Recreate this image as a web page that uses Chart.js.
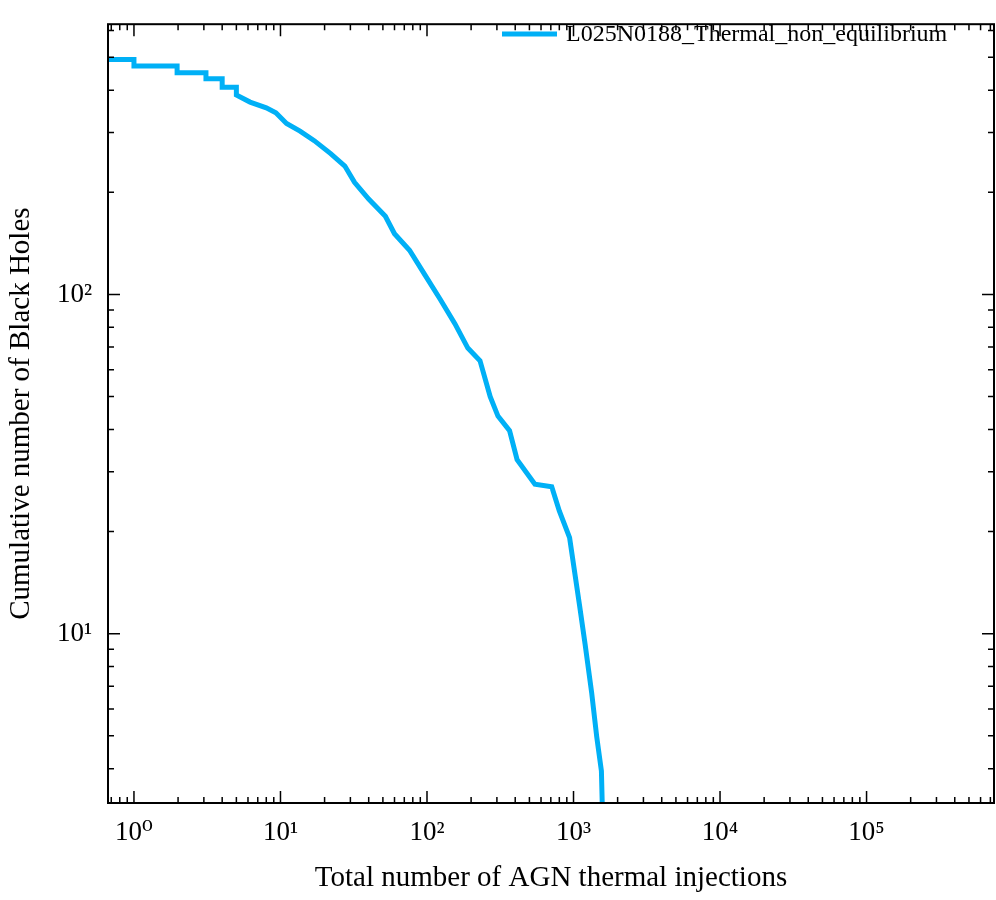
<!DOCTYPE html>
<html><head><meta charset="utf-8">
<script src="https://cdn.jsdelivr.net/npm/chart.js@4/dist/chart.umd.min.js"></script>
<style>html,body{margin:0;padding:0;background:#fff}#c{display:block}</style>
</head><body>
<div style="width:996px;height:900px"><canvas id="c" width="996" height="900"></canvas></div>
<script>
const seriesLabel = 'L025N0188_Thermal_non_equilibrium';
const xValues = [0.665,1,1,1.97,1.97,3.1,3.1,4,4,5,5,6.2,8,9.3,11,13.6,17,22,27.5,32,40,52,60,76,97,123,155,190,230,270,305,366,412,545,710,800,940,1100,1200,1330,1440,1550,1575];
const yValues = [493,493,471,471,450,450,432,432,408,408,387,369,355,343,319,303,284,260,239,214,191,170,151,135,114,96.8,82,69.5,63.8,50,43.8,39.7,32.6,27.6,27.1,23,19.2,12.1,9.3,6.7,4.97,3.94,3.0];
const xTickLabels = {0:'10⁰',1:'10¹',2:'10²',3:'10³',4:'10⁴',5:'10⁵'};
const yTickLabels = {1:'10¹',2:'10²'};
const FONT = "'Liberation Serif','DejaVu Serif',serif";

const ticksPlugin = {
  id:'inticks',
  afterDatasetsDraw(chart){
    const {ctx, chartArea:a, scales:{x,y}} = chart;
    ctx.save();
    ctx.strokeStyle='#000';
    ctx.lineWidth=2;
    ctx.strokeRect(a.left,a.top,a.right-a.left,a.bottom-a.top);
    ctx.lineWidth=1.5;
    for(let e=-1;e<=6;e++){
      for(let m=1;m<=9;m++){
        const v=m*Math.pow(10,e);
        const L = m===1?12:6;
        const px=x.getPixelForValue(v);
        if(px>a.left+1 && px<a.right-1){
          ctx.beginPath();ctx.moveTo(px,a.bottom);ctx.lineTo(px,a.bottom-L);
          ctx.moveTo(px,a.top);ctx.lineTo(px,a.top+L);ctx.stroke();
        }
        const py=y.getPixelForValue(v);
        if(py>a.top+1 && py<a.bottom-1){
          ctx.beginPath();ctx.moveTo(a.left,py);ctx.lineTo(a.left+L,py);
          ctx.moveTo(a.right,py);ctx.lineTo(a.right-L,py);ctx.stroke();
        }
      }
    }
    ctx.strokeStyle='#00b0f6';ctx.lineWidth=5;
    ctx.beginPath();ctx.moveTo(502,34);ctx.lineTo(557,34);ctx.stroke();
    ctx.fillStyle='#000';ctx.font="24px "+FONT;ctx.textBaseline='middle';
    ctx.fillText(seriesLabel,566,35);
    ctx.restore();
  }
};

new Chart(document.getElementById('c'),{
  type:'line',
  data:{datasets:[{label:seriesLabel,data:xValues.map((v,i)=>({x:v,y:yValues[i]})),
    borderColor:'#00b0f6',borderWidth:5,pointRadius:0,tension:0,fill:false}]},
  options:{
    responsive:false,animation:false,
    layout:{padding:{top:-18,right:2,left:0,bottom:0}},
    plugins:{legend:{display:false},tooltip:{enabled:false}},
    scales:{
      x:{type:'logarithmic',min:0.665,max:741000,
        grid:{display:false},border:{display:false},
        afterBuildTicks(s){s.ticks=[0,1,2,3,4,5].map(e=>({value:Math.pow(10,e)}));},
        afterFit(s){s.height=97;},
        ticks:{autoSkip:false,maxRotation:0,color:'#000',font:{family:FONT,size:27},padding:6,
          callback(v){const e=Math.round(Math.log10(v));return xTickLabels[e]||'';}},
        title:{display:true,text:'Total number of AGN thermal injections',color:'#000',font:{family:FONT,size:29},padding:{top:2}}},
      y:{type:'logarithmic',min:3.17,max:626,
        grid:{display:false},border:{display:false},
        afterBuildTicks(s){s.ticks=[1,2].map(e=>({value:Math.pow(10,e)}));},
        afterFit(s){s.width=108;},
        ticks:{autoSkip:false,color:'#000',font:{family:FONT,size:27},padding:8,
          callback(v){const e=Math.round(Math.log10(v));return yTickLabels[e]||'';}},
        title:{display:true,text:'Cumulative number of Black Holes',color:'#000',font:{family:FONT,size:29},padding:{bottom:2}}}
    }
  },
  plugins:[ticksPlugin]
});
</script>
</body></html>
